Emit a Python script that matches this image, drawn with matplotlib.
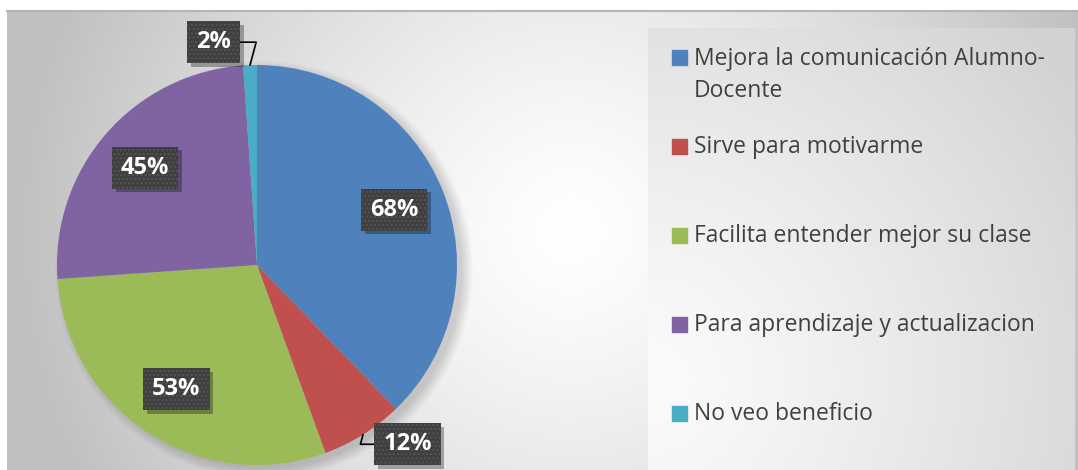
import numpy as np
import matplotlib.pyplot as plt
from matplotlib.patches import Circle, Rectangle
import matplotlib.patheffects as pe

# Datos
categorias = ["Mejora la comunicación Alumno-\nDocente",
              "Sirve para motivarme",
              "Facilita entender mejor su clase",
              "Para aprendizaje y actualizacion",
              "No veo beneficio"]
valores = [68, 12, 53, 45, 2]
etiquetas = [f"{v}%" for v in valores]
colores = ["#4F81BD", "#C0504D", "#9BBB59", "#8064A2", "#4BACC6"]

W, H = 1078, 470
fig = plt.figure(figsize=(W / 100, H / 100), dpi=100)
fig.patch.set_facecolor("white")

# Fondo con degradado
bg = fig.add_axes([0, 0, 1, 1])
bg.set_xlim(0, W)
bg.set_ylim(H, 0)
bg.axis("off")

xx, yy = np.meshgrid(np.arange(7, W), np.arange(11, H))
d = np.hypot(xx - 570, yy - 230)
fondo = 1 - 0.25 * np.clip(d / 560, 0, 1) ** 1.3
bg.imshow(np.dstack([fondo] * 3), extent=(7, W, H, 11), aspect="auto", zorder=0)
bg.plot([7, W], [10.5, 10.5], color="#b5b5b5", lw=1.5, zorder=1)

xx, yy = np.meshgrid(np.arange(648, 1075), np.arange(28, H))
d = np.hypot(xx - 650, yy - 380)
fondo_ley = 0.985 - 0.16 * np.clip(d / 520, 0, 1) ** 1.2
bg.imshow(np.dstack([fondo_ley] * 3), extent=(648, 1075, H, 28), aspect="auto", zorder=1)

# Pastel
cx, cy, r = 257, 265, 200
ax = fig.add_axes([(cx - 300) / W, (H - cy - 300) / H, 600 / W, 600 / H])
ax.set_facecolor("none")
for k in range(10):
    ax.add_patch(Circle((0.035, -0.025), 0.99 + 0.006 * k, color="k", alpha=0.014, lw=0))
wedges, _ = ax.pie(valores, colors=colores, startangle=90, counterclock=False,
                   radius=1, wedgeprops=dict(linewidth=0.5, edgecolor="none"))
ax.set_xlim(-1.5, 1.5)
ax.set_ylim(-1.5, 1.5)
ax.set_aspect("equal")
ax.axis("off")

caja = dict(boxstyle="square,pad=0.38", facecolor="#3f3f3f", edgecolor="#545454",
            hatch="....", linewidth=0)
fuente = dict(family="Open Sans", weight="bold", size=17, color="white")

# posicion de etiquetas externas (angulo, radio)
externas = {1: (-50, 1.17), 4: (101, 1.135)}
for i, (w, txt) in enumerate(zip(wedges, etiquetas)):
    ang = np.deg2rad((w.theta1 + w.theta2) / 2)
    if i in externas:
        a, rr = externas[i]
        a = np.deg2rad(a)
        t = ax.annotate(txt, xy=(np.cos(ang), np.sin(ang)),
                        xytext=(rr * np.cos(a), rr * np.sin(a)),
                        ha="center", va="center", bbox=caja, **fuente,
                        arrowprops=dict(arrowstyle="-", color="black", lw=1.2,
                                        shrinkA=0, shrinkB=0,
                                        connectionstyle="angle,angleA=0,angleB=75,rad=0"))
    else:
        t = ax.text(0.74 * np.cos(ang), 0.74 * np.sin(ang), txt,
                    ha="center", va="center", bbox=caja, **fuente)
    t.get_bbox_patch().set_path_effects([
        pe.SimplePatchShadow(offset=(2.5, -2.5), shadow_rgbFace="black", alpha=0.3,
                             hatch=None),
        pe.Normal()])

# Leyenda
for i, (cat, col) in enumerate(zip(categorias, colores)):
    y = 57 + 89 * i
    extra = 33 * cat.count("\n")
    bg.add_patch(Rectangle((672, y - 7.5), 15, 15, color=col, zorder=3))
    bg.text(694, y + 7 + extra, cat, ha="left", va="baseline", fontsize=16.5,
            family="Open Sans", color="#404040", linespacing=1.45, zorder=3)

fig.savefig("out.png", dpi=100)
